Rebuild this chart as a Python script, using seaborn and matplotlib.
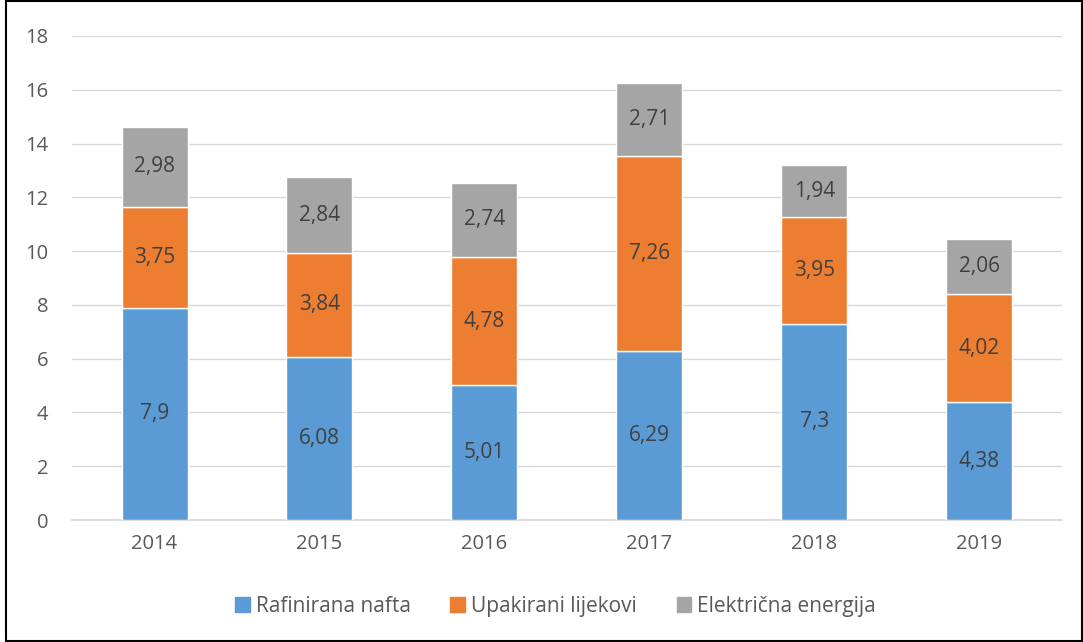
import matplotlib.pyplot as plt
import matplotlib.patches as mpatches
import seaborn as sns
import pandas as pd

years = ['2014', '2015', '2016', '2017', '2018', '2019']
nafta = [7.9, 6.08, 5.01, 6.29, 7.3, 4.38]
lijekovi = [3.75, 3.84, 4.78, 7.26, 3.95, 4.02]
energija = [2.98, 2.84, 2.74, 2.71, 1.94, 2.06]
series_names = ['Rafinirana nafta', 'Upakirani lijekovi', 'Električna energija']
colors = ['#5B9BD5', '#ED7D31', '#A5A5A5']

sns.set_theme(style='white')
plt.rcParams['font.family'] = ['Open Sans', 'DejaVu Sans']

df = pd.DataFrame({'Godina': years, 'nafta': nafta, 'lijekovi': lijekovi, 'energija': energija})

fig = plt.figure(figsize=(10.83, 6.42), dpi=100)
ax = fig.add_axes([0.0665, 0.19, 0.914, 0.754])

bottom = [0.0] * len(years)
for col, name, color in zip(['nafta', 'lijekovi', 'energija'], series_names, colors):
    sns.barplot(data=df, x='Godina', y=col, color=color, width=0.4, bottom=bottom,
                saturation=1, ax=ax, zorder=3)
    for i, v in enumerate(df[col]):
        ax.text(i, bottom[i] + v / 2, str(v).replace('.', ','), ha='center', va='center',
                fontsize=15, color='#404040', zorder=4)
    bottom = [b + v for b, v in zip(bottom, df[col])]

ax.set_ylim(0, 18)
ax.set_yticks(range(0, 19, 2))
ax.set_xlim(-0.5, 5.5)
ax.set_xlabel('')
ax.set_ylabel('')
ax.yaxis.grid(True, color='#D9D9D9', linewidth=1, zorder=0)
ax.tick_params(axis='both', labelsize=14.5, colors='#595959', length=0)
ax.tick_params(axis='x', pad=10)
ax.tick_params(axis='y', pad=17)
for s in ['top', 'right', 'left']:
    ax.spines[s].set_visible(False)
ax.spines['bottom'].set_color('#D9D9D9')

handles = [mpatches.Patch(color=c, label=n) for c, n in zip(colors, series_names)]
fig.legend(handles=handles, loc='center', bbox_to_anchor=(0.513, 0.056), ncol=3, frameon=False,
           fontsize=15, handlelength=0.7, handleheight=0.7, columnspacing=1.9,
           handletextpad=0.3, labelcolor='#595959')

fig.patches.append(mpatches.Rectangle((0.006, 0.001), 0.993, 0.997, transform=fig.transFigure,
                                      fill=False, edgecolor='black', linewidth=1.5))

fig.savefig('out.png', dpi=100)
